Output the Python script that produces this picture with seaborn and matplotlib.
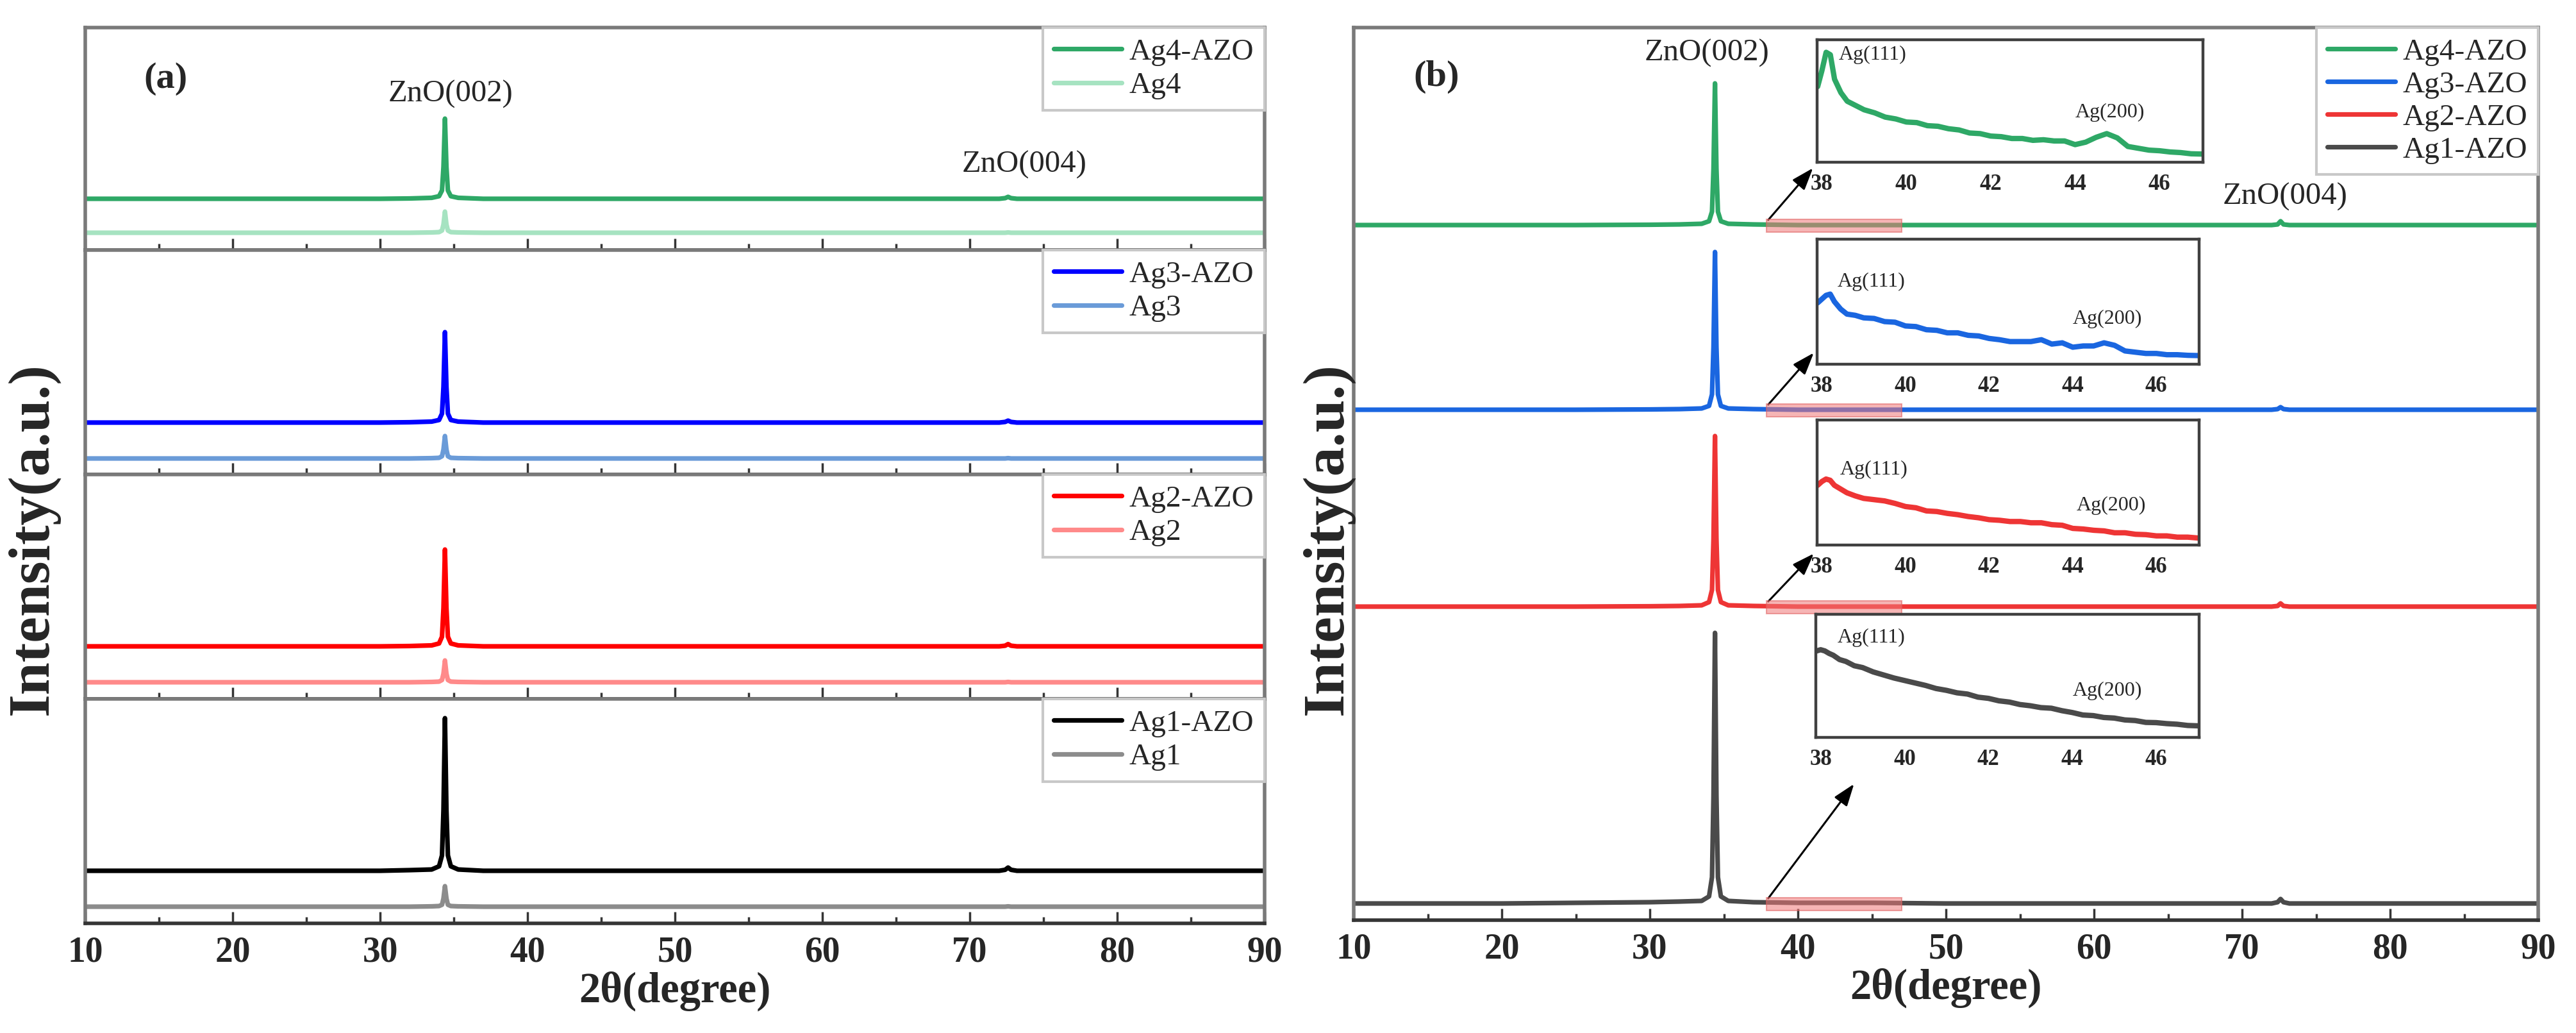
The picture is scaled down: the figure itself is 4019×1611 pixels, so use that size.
import matplotlib
matplotlib.use("Agg")
import matplotlib.pyplot as plt
from matplotlib.patches import Rectangle
import numpy as np
import seaborn as sns

sns.set_theme(style="white")
plt.rcParams["font.family"] = ["Liberation Serif", "DejaVu Serif"]
plt.rcParams["mathtext.fontset"] = "stix"

# ---------------- data ----------------
two_theta = [10, 15, 20, 25, 30, 32, 33.5, 34.0, 34.2, 34.3, 34.4, 34.5, 34.6, 34.8, 35.3,
             37, 40, 45, 50, 55, 60, 65, 70, 72.0, 72.4, 72.6, 72.8, 73.2, 75, 80, 85, 90]

# panel (a) intensities (a.u.)
ag4_azo_a = [0, 0, 0, 0, 0, 0.005, 0.015, 0.04, 0.13, 0.50, 1.25, 0.50, 0.13, 0.04, 0.015,
             0, 0, 0, 0, 0, 0, 0, 0, 0, 0.01, 0.03, 0.01, 0, 0, 0, 0, 0]
ag4_a = [0, 0, 0, 0, 0, 0, 0.005, 0.01, 0.035, 0.13, 0.33, 0.13, 0.035, 0.01, 0.005,
         0, 0, 0, 0, 0, 0, 0, 0, 0, 0, 0.005, 0, 0, 0, 0, 0, 0]
ag3_azo_a = [0, 0, 0, 0, 0, 0.005, 0.015, 0.04, 0.14, 0.56, 1.41, 0.56, 0.14, 0.04, 0.015,
             0, 0, 0, 0, 0, 0, 0, 0, 0, 0.01, 0.03, 0.01, 0, 0, 0, 0, 0]
ag3_a = [0, 0, 0, 0, 0, 0, 0.005, 0.01, 0.035, 0.14, 0.35, 0.14, 0.035, 0.01, 0.005,
         0, 0, 0, 0, 0, 0, 0, 0, 0, 0, 0.005, 0, 0, 0, 0, 0, 0]
ag2_azo_a = [0, 0, 0, 0, 0, 0.005, 0.015, 0.045, 0.15, 0.60, 1.51, 0.60, 0.15, 0.045, 0.015,
             0, 0, 0, 0, 0, 0, 0, 0, 0, 0.01, 0.035, 0.01, 0, 0, 0, 0, 0]
ag2_a = [0, 0, 0, 0, 0, 0, 0.005, 0.01, 0.035, 0.135, 0.34, 0.135, 0.035, 0.01, 0.005,
         0, 0, 0, 0, 0, 0, 0, 0, 0, 0, 0.005, 0, 0, 0, 0, 0, 0]
ag1_azo_a = [0, 0, 0, 0, 0, 0.01, 0.02, 0.07, 0.24, 0.95, 2.38, 0.95, 0.24, 0.07, 0.02,
             0, 0, 0, 0, 0, 0, 0, 0, 0, 0.015, 0.05, 0.015, 0, 0, 0, 0, 0]
ag1_a = [0, 0, 0, 0, 0, 0, 0.005, 0.01, 0.03, 0.13, 0.32, 0.13, 0.03, 0.01, 0.005,
         0, 0, 0, 0, 0, 0, 0, 0, 0, 0, 0.005, 0, 0, 0, 0, 0, 0]

# panel (b) intensities (a.u.)
ag4_azo_b = [0.01, 0.01, 0.01, 0.01, 0.015, 0.02, 0.03, 0.07, 0.22, 0.89, 2.22, 0.89, 0.22, 0.07, 0.03,
             0.02, 0.01, 0.01, 0.01, 0.01, 0.01, 0.01, 0.01, 0.01, 0.02, 0.07, 0.02, 0.01, 0.01, 0.01, 0.01, 0.01]
ag3_azo_b = [0.01, 0.01, 0.01, 0.01, 0.015, 0.02, 0.03, 0.07, 0.25, 0.99, 2.47, 0.99, 0.25, 0.07, 0.03,
             0.02, 0.01, 0.01, 0.01, 0.01, 0.01, 0.01, 0.01, 0.01, 0.02, 0.05, 0.02, 0.01, 0.01, 0.01, 0.01, 0.01]
ag2_azo_b = [0.01, 0.01, 0.01, 0.01, 0.015, 0.02, 0.03, 0.08, 0.27, 1.07, 2.67, 1.07, 0.27, 0.08, 0.03,
             0.02, 0.01, 0.01, 0.01, 0.01, 0.01, 0.01, 0.01, 0.01, 0.02, 0.06, 0.02, 0.01, 0.01, 0.01, 0.01, 0.01]
ag1_azo_b = [0.01, 0.01, 0.01, 0.02, 0.03, 0.04, 0.05, 0.12, 0.42, 1.69, 4.23, 1.69, 0.42, 0.12, 0.05,
             0.03, 0.02, 0.02, 0.01, 0.01, 0.01, 0.01, 0.01, 0.01, 0.03, 0.08, 0.03, 0.01, 0.01, 0.01, 0.01, 0.01]

# insets (38-47 deg), normalised intensity
inset_theta = [37.9, 38.0, 38.1, 38.2, 38.3, 38.45, 38.6, 38.8, 39.0, 39.25, 39.5, 39.75, 40.0, 40.25,
               40.5, 40.75, 41.0, 41.25, 41.5, 41.75, 42.0, 42.25, 42.5, 42.75, 43.0, 43.25, 43.5,
               43.75, 44.0, 44.25, 44.5, 44.75, 45.0, 45.25, 45.5, 45.75, 46.0, 46.25, 46.5, 46.75, 47.0]
inset_ag4 = [0.62, 0.75, 0.90, 0.88, 0.68, 0.57, 0.50, 0.465, 0.43, 0.405, 0.37, 0.355, 0.33, 0.325,
             0.30, 0.295, 0.275, 0.265, 0.24, 0.235, 0.215, 0.21, 0.195, 0.195, 0.18, 0.185, 0.175,
             0.175, 0.145, 0.165, 0.205, 0.235, 0.20, 0.13, 0.115, 0.10, 0.095, 0.085, 0.08, 0.07, 0.068]
inset_ag3 = [0.49, 0.52, 0.55, 0.56, 0.50, 0.44, 0.40, 0.39, 0.37, 0.365, 0.34, 0.335, 0.305, 0.30,
             0.275, 0.27, 0.25, 0.25, 0.23, 0.225, 0.205, 0.195, 0.18, 0.18, 0.18, 0.195, 0.16,
             0.17, 0.135, 0.145, 0.145, 0.17, 0.15, 0.105, 0.095, 0.085, 0.085, 0.075, 0.075, 0.07, 0.068]
inset_ag2 = [0.48, 0.51, 0.53, 0.52, 0.48, 0.45, 0.42, 0.395, 0.375, 0.365, 0.355, 0.335, 0.31, 0.30,
             0.275, 0.27, 0.255, 0.245, 0.23, 0.22, 0.205, 0.20, 0.19, 0.19, 0.18, 0.18, 0.165,
             0.16, 0.135, 0.13, 0.12, 0.115, 0.10, 0.10, 0.088, 0.085, 0.075, 0.075, 0.065, 0.065, 0.058]
inset_ag1 = [0.70, 0.71, 0.70, 0.68, 0.665, 0.63, 0.615, 0.58, 0.565, 0.53, 0.505, 0.48, 0.46, 0.44,
             0.42, 0.395, 0.38, 0.36, 0.35, 0.325, 0.315, 0.295, 0.285, 0.265, 0.255, 0.24, 0.235,
             0.215, 0.20, 0.18, 0.175, 0.16, 0.155, 0.14, 0.135, 0.12, 0.118, 0.11, 0.105, 0.095, 0.092]

labels_a = [("Ag4-AZO", "Ag4"), ("Ag3-AZO", "Ag3"), ("Ag2-AZO", "Ag2"), ("Ag1-AZO", "Ag1")]
series_a = [(ag4_azo_a, ag4_a), (ag3_azo_a, ag3_a), (ag2_azo_a, ag2_a), (ag1_azo_a, ag1_a)]
colors_a = [("#2ea866", "#a6e3c1"), ("#0000ff", "#6a9bd8"), ("#ff0000", "#ff8a8a"), ("#000000", "#8c8c8c")]
offsets_a = [(0.80, 0.27), (0.81, 0.25), (0.82, 0.26), (0.82, 0.26)]

labels_b = ["Ag4-AZO", "Ag3-AZO", "Ag2-AZO", "Ag1-AZO"]
series_b = [ag4_azo_b, ag3_azo_b, ag2_azo_b, ag1_azo_b]
colors_b = ["#2ea866", "#1a66e0", "#ee3535", "#4a4a4a"]
offsets_b = [10.83, 7.95, 4.88, 0.25]
insets_b = [inset_ag4, inset_ag3, inset_ag2, inset_ag1]

# ---------------- layout ----------------
W, H = 4019, 1611
fig = plt.figure(figsize=(W / 100, H / 100), dpi=100)
fig.patch.set_facecolor("white")


def box(x0, y0, x1, y1):
    return [x0 / W, 1 - y1 / H, (x1 - x0) / W, (y1 - y0) / H]


SP_DARK = "#353535"
SP_GRAY = "#7a7a7a"
LW = 5.2


def style_main(ax, show_labels):
    ax.set_xlim(10, 90)
    ax.set_xticks(range(10, 91, 10))
    ax.set_xticks(range(15, 90, 10), minor=True)
    ax.set_yticks([])
    ax.tick_params(axis="x", which="major", direction="in", length=13, width=2.5,
                   color=SP_DARK, bottom=True, top=False, pad=14, labelsize=40)
    ax.tick_params(axis="x", which="minor", direction="in", length=7, width=2.5,
                   color=SP_DARK, bottom=True, top=False)
    for side in ["left", "right", "top"]:
        ax.spines[side].set_color(SP_GRAY)
        ax.spines[side].set_linewidth(4)
    ax.spines["bottom"].set_color(SP_DARK)
    ax.spines["bottom"].set_linewidth(4)
    if show_labels:
        for lbl in ax.get_xticklabels():
            lbl.set_fontweight("bold")
    else:
        ax.set_xticklabels([])
    ax.set_xlabel("")
    ax.set_ylabel("")


# ---------------- panel (a) ----------------
edges = [43, 390, 740, 1090, 1440]
axes_a = []
for i in range(4):
    ax = fig.add_axes(box(133, edges[i], 1973, edges[i + 1]))
    axes_a.append(ax)
    (azo, plain) = series_a[i]
    (c_azo, c_plain) = colors_a[i]
    (o_azo, o_plain) = offsets_a[i]
    sns.lineplot(x=two_theta, y=np.array(azo) + o_azo, ax=ax, color=c_azo, lw=LW,
                 label=labels_a[i][0])
    sns.lineplot(x=two_theta, y=np.array(plain) + o_plain, ax=ax, color=c_plain, lw=LW,
                 label=labels_a[i][1])
    ax.set_ylim(0, (edges[i + 1] - edges[i]) / 100)
    style_main(ax, i == 3)
    leg = ax.legend(loc="upper right", bbox_to_anchor=(1.0, 1.0), borderaxespad=0,
                    fontsize=34, handlelength=2.25, handletextpad=0.25, labelspacing=0.2,
                    borderpad=0.35, frameon=True, fancybox=False, framealpha=1)
    leg.get_frame().set_edgecolor("#c8c8c8")
    leg.get_frame().set_linewidth(3)

axes_a[3].set_xlabel("2θ(degree)", fontsize=48, fontweight="bold", labelpad=2)
axes_a[0].text(0.068, 0.77, "(a)", transform=axes_a[0].transAxes, fontsize=42,
               fontweight="bold", ha="center", va="center")
axes_a[0].text(34.8, 2.43, "ZnO(002)", fontsize=35, ha="center", va="center")
axes_a[0].text(73.7, 1.33, "ZnO(004)", fontsize=35, ha="center", va="center")
fig.text(51 / W, 1 - 840 / H, "Intensity(a.u.)", rotation=90, fontsize=66,
         fontweight="bold", ha="center", va="center")

# ---------------- panel (b) ----------------
axb = fig.add_axes(box(2112, 43, 3960, 1435))
for i in range(4):
    sns.lineplot(x=two_theta, y=np.array(series_b[i]) + offsets_b[i], ax=axb,
                 color=colors_b[i], lw=LW, label=labels_b[i])
axb.set_ylim(0, 13.92)
style_main(axb, True)
axb.set_xlabel("2θ(degree)", fontsize=48, fontweight="bold", labelpad=2)
leg = axb.legend(loc="upper right", bbox_to_anchor=(1.0, 1.0), borderaxespad=0,
                 fontsize=34, handlelength=2.25, handletextpad=0.25, labelspacing=0.17,
                 borderpad=0.35, frameon=True, fancybox=False, framealpha=1)
leg.get_frame().set_edgecolor("#c8c8c8")
leg.get_frame().set_linewidth(3)
axb.text(0.070, 0.945, "(b)", transform=axb.transAxes, fontsize=42, fontweight="bold",
         ha="center", va="center")
axb.text(33.85, 13.52, "ZnO(002)", fontsize=35, ha="center", va="center")
axb.text(72.9, 11.28, "ZnO(004)", fontsize=35, ha="center", va="center")
fig.text(2071 / W, 1 - 840 / H, "Intensity(a.u.)", rotation=90, fontsize=66,
         fontweight="bold", ha="center", va="center")

# insets
inset_bounds = [(0.391, 0.849, 0.326, 0.137), (0.391, 0.623, 0.323, 0.140),
                (0.391, 0.420, 0.323, 0.140), (0.390, 0.205, 0.324, 0.138)]
ag111_pos = [(0.145, 0.88), (0.142, 0.656), (0.15, 0.605), (0.145, 0.81)]
ag200_pos = [(0.76, 0.41), (0.76, 0.36), (0.77, 0.32), (0.76, 0.375)]
arrow_tips = [(-0.01, -0.047), (-0.008, 0.09), (-0.008, -0.067), (0.10, -0.38)]

for i in range(4):
    ins = axb.inset_axes(inset_bounds[i])
    sns.lineplot(x=inset_theta, y=insets_b[i], ax=ins, color=colors_b[i], lw=6)
    ins.set_xlim(37.88, 47.03)
    ins.set_ylim(0, 1)
    ins.set_xticks([38, 40, 42, 44, 46])
    ins.set_xticks([39, 41, 43, 45, 47], minor=True)
    ins.set_yticks([])
    ins.tick_params(axis="x", which="major", direction="in", length=11, width=2.2,
                    color=SP_DARK, pad=13, labelsize=25)
    ins.tick_params(axis="x", which="minor", direction="in", length=6, width=2.2,
                    color=SP_DARK)
    for lbl in ins.get_xticklabels():
        lbl.set_fontweight("bold")
    for side in ins.spines:
        ins.spines[side].set_color("#404040")
        ins.spines[side].set_linewidth(3.2)
    ins.set_xlabel("")
    ins.set_ylabel("")
    ins.text(*ag111_pos[i], "Ag(111)", transform=ins.transAxes, fontsize=23,
             ha="center", va="center")
    ins.text(*ag200_pos[i], "Ag(200)", transform=ins.transAxes, fontsize=23,
             ha="center", va="center")
    # highlighted region on main curve
    axb.add_patch(Rectangle((37.9, offsets_b[i] - 0.1), 9.1, 0.2, facecolor="#f07878",
                            alpha=0.55, edgecolor="#e06060", lw=1.5, zorder=5))
    axb.annotate("", xy=arrow_tips[i], xycoords=ins.transAxes,
                 xytext=(38.0, offsets_b[i] + 0.09), textcoords="data",
                 arrowprops=dict(arrowstyle="-|>,head_length=0.7,head_width=0.25",
                                 color="black", lw=2.2, mutation_scale=30,
                                 shrinkA=0, shrinkB=0))

fig.savefig("out.png", dpi=100, facecolor="white")
